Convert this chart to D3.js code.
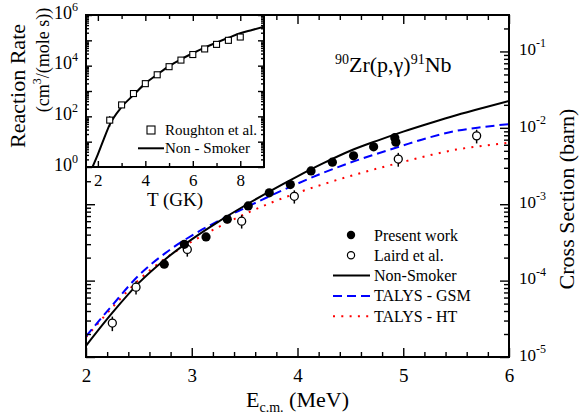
<!DOCTYPE html>
<html lang="en">
<head>
<meta charset="UTF-8">
<title>90Zr(p,g)91Nb cross section and reaction rate</title>
<script src="https://d3js.org/d3.v7.min.js"></script>
<style>
  body { margin: 0; background: #fff; }
  svg { display: block; }
  svg text { font-family: "Liberation Serif", "Times New Roman", "Noto Serif", "DejaVu Serif", FreeSerif, "Nimbus Roman", Times, serif; }
  .domain { display: none; }
  .tick line { stroke: #000; stroke-width: 1.4px; }
</style>
</head>
<body>
<svg width="579" height="418"></svg>
<script>
// ---- main panel: cross section (barn) vs E_cm (MeV) ----
const energies   = [2.0, 2.25, 2.5, 2.75, 3.0, 3.25, 3.5, 3.75, 4.0, 4.25, 4.5, 4.75, 5.0, 5.25, 5.5, 5.75, 6.0];
const nonSmoker  = [1.40e-5, 3.80e-5, 9.33e-5, 1.905e-4, 3.47e-4, 5.89e-4, 9.55e-4, 1.51e-3, 2.32e-3, 3.47e-3, 5.01e-3, 6.76e-3, 8.91e-3, 1.148e-2, 1.462e-2, 1.82e-2, 2.24e-2];
const talysGSM   = [1.86e-5, 4.79e-5, 1.175e-4, 2.29e-4, 3.89e-4, 6.03e-4, 8.91e-4, 1.30e-3, 1.86e-3, 2.60e-3, 3.51e-3, 4.57e-3, 5.89e-3, 7.50e-3, 9.12e-3, 1.023e-2, 1.12e-2];
const talysHT    = [1.82e-5, 4.47e-5, 1.023e-4, 1.95e-4, 3.24e-4, 5.01e-4, 7.41e-4, 1.047e-3, 1.41e-3, 1.84e-3, 2.34e-3, 2.92e-3, 3.59e-3, 4.37e-3, 5.19e-3, 5.82e-3, 6.38e-3];

const presentE     = [2.74, 2.93, 3.135, 3.336, 3.534, 3.733, 3.932, 4.128, 4.33, 4.53, 4.72, 4.92, 4.93];
const presentSigma = [1.64e-4, 2.99e-4, 3.73e-4, 6.36e-4, 9.5e-4, 1.41e-3, 1.81e-3, 2.73e-3, 3.55e-3, 4.30e-3, 5.64e-3, 7.43e-3, 6.50e-3];

const lairdE     = [2.249, 2.473, 2.958, 3.472, 3.97, 4.953, 5.694];
const lairdSigma = [2.78e-5, 8.2e-5, 2.56e-4, 6.0e-4, 1.27e-3, 3.9e-3, 7.85e-3];
const lairdErr   = [6e-6, 1.6e-5, 5e-5, 1.2e-4, 2.5e-4, 8e-4, 1.6e-3];

const energyTicks = [2, 3, 4, 5, 6];
const sigmaDecades = [-5, -4, -3, -2, -1];

// ---- inset: reaction rate vs T (GK) ----
const rateT         = [1.75, 2.0, 2.25, 2.5, 3.0, 3.5, 4.0, 4.5, 5.0, 5.5, 6.0, 6.5, 7.0, 7.5, 8.0, 8.5, 9.0];
const rateNonSmoker = [0.89, 3.16, 12.6, 46.8, 234, 692, 2000, 4470, 9550, 17800, 30900, 51300, 81300, 126000, 191000, 257000, 347000];
const roughtonT     = [2.5, 3.0, 3.5, 4.0, 4.5, 5.0, 5.5, 6.0, 6.5, 7.0, 7.5, 8.0];
const roughtonRate  = [70.8, 282, 794, 1950, 4370, 9120, 16600, 27500, 45700, 69200, 100000, 135000];
const roughtonErr   = [32, 60, 150, 300, 600, 1200, 2000, 3000, 5000, 7000, 9000, 12000];

const tempTicks = [2, 4, 6, 8];
const rateDecades = [0, 1, 2, 3, 4, 5, 6];

const mainLegend = ["Present work", "Laird et al.", "Non-Smoker", "TALYS - GSM", "TALYS - HT"];
const insetLegend = ["Roughton et al.", "Non - Smoker"];

const svg = d3.select("svg");

const M = { left: 86, right: 509, top: 15, bottom: 357 };
const I = { left: 86, right: 264, top: 15, bottom: 167 };

const x = d3.scaleLinear().domain([2, 6]).range([M.left, M.right]);
const y = d3.scaleLog().domain([1e-5, 0.3]).range([M.bottom, M.top]);
const xi = d3.scaleLinear().domain([1.5, 9]).range([I.left, I.right]);
const yi = d3.scaleLog().domain([1, 1e6]).range([I.bottom, I.top]);

// log minor tick values
function logMinors(decades, maxVal) {
  const out = [];
  decades.forEach(d => {
    for (let k = 2; k <= 9; k++) {
      const v = k * Math.pow(10, d);
      if (v <= maxVal) out.push(v);
    }
  });
  return out;
}

function powLabel(sel, exp, size, supSize) {
  sel.each(function () {
    const t = d3.select(this).text(null);
    t.append("tspan").attr("font-size", size).text("10");
    t.append("tspan").attr("font-size", supSize).attr("dy", -8).text(exp);
  });
}

const defs = svg.append("defs");
defs.append("clipPath").attr("id", "clipMain").append("rect")
  .attr("x", M.left).attr("y", M.top).attr("width", M.right - M.left).attr("height", M.bottom - M.top);
defs.append("clipPath").attr("id", "clipInset").append("rect")
  .attr("x", I.left).attr("y", I.top).attr("width", I.right - I.left).attr("height", I.bottom - I.top);

// ---- main curves ----
const line = d3.line().x(d => x(d[0])).y(d => y(d[1])).curve(d3.curveMonotoneX);
const curves = svg.append("g").attr("clip-path", "url(#clipMain)").attr("fill", "none").attr("stroke-width", 2);
curves.append("path").datum(d3.zip(energies, talysHT)).attr("d", line)
  .attr("stroke", "#ff0000").attr("stroke-dasharray", "2,6.3");
curves.append("path").datum(d3.zip(energies, talysGSM)).attr("d", line)
  .attr("stroke", "#0000ff").attr("stroke-dasharray", "9,5");
curves.append("path").datum(d3.zip(energies, nonSmoker)).attr("d", line)
  .attr("stroke", "#000");

// Laird et al. (open circles with error bars)
const laird = svg.append("g");
laird.selectAll("line").data(d3.range(lairdE.length)).join("line")
  .attr("x1", i => x(lairdE[i])).attr("x2", i => x(lairdE[i]))
  .attr("y1", i => y(lairdSigma[i] - lairdErr[i])).attr("y2", i => y(lairdSigma[i] + lairdErr[i]))
  .attr("stroke", "#000").attr("stroke-width", 1.5);
laird.selectAll("circle").data(d3.range(lairdE.length)).join("circle")
  .attr("cx", i => x(lairdE[i])).attr("cy", i => y(lairdSigma[i])).attr("r", 4)
  .attr("fill", "#fff").attr("stroke", "#000").attr("stroke-width", 1.3);

// present work (filled circles)
svg.append("g").selectAll("circle").data(d3.range(presentE.length)).join("circle")
  .attr("cx", i => x(presentE[i])).attr("cy", i => y(presentSigma[i])).attr("r", 4.6)
  .attr("fill", "#000");

// ---- main axes ----
const sigmaMajor = sigmaDecades.map(d => Math.pow(10, d));
const sigmaMinor = logMinors(sigmaDecades, 0.3);
const xMinor = d3.range(2, 6.001, 0.2).filter(v => Math.abs(v - Math.round(v)) > 1e-6);

svg.append("g").attr("transform", `translate(0,${M.bottom})`)
  .call(d3.axisBottom(x).tickValues(energyTicks).tickSizeInner(-9).tickSizeOuter(0).tickPadding(12).tickFormat(d3.format("d")))
  .attr("font-size", 19).attr("font-family", null);
svg.append("g").attr("transform", `translate(0,${M.bottom})`)
  .call(d3.axisBottom(x).tickValues(xMinor).tickSizeInner(-5).tickSizeOuter(0).tickFormat(""));

// top axis, only right of the inset
svg.append("g").attr("transform", `translate(0,${M.top})`)
  .call(d3.axisTop(x).tickValues(energyTicks.filter(v => x(v) > I.right + 2)).tickSizeInner(-9).tickSizeOuter(0).tickFormat(""));
svg.append("g").attr("transform", `translate(0,${M.top})`)
  .call(d3.axisTop(x).tickValues(xMinor.filter(v => x(v) > I.right + 2)).tickSizeInner(-5).tickSizeOuter(0).tickFormat(""));

// right axis with labels
const rightAx = svg.append("g").attr("transform", `translate(${M.right},0)`)
  .call(d3.axisRight(y).tickValues(sigmaMajor).tickSizeInner(-9).tickSizeOuter(0).tickPadding(10).tickFormat(""))
  .attr("font-family", null);
rightAx.selectAll(".tick text").each(function (d) {
  powLabel(d3.select(this), String(Math.round(Math.log10(d))), 17, 12);
});
svg.append("g").attr("transform", `translate(${M.right},0)`)
  .call(d3.axisRight(y).tickValues(sigmaMinor).tickSizeInner(-5).tickSizeOuter(0).tickFormat(""));

// left axis below the inset
svg.append("g").attr("transform", `translate(${M.left},0)`)
  .call(d3.axisLeft(y).tickValues(sigmaMajor.filter(v => y(v) > I.bottom + 3)).tickSizeInner(-9).tickSizeOuter(0).tickFormat(""));
svg.append("g").attr("transform", `translate(${M.left},0)`)
  .call(d3.axisLeft(y).tickValues(sigmaMinor.filter(v => y(v) > I.bottom + 3)).tickSizeInner(-5).tickSizeOuter(0).tickFormat(""));

svg.append("rect").attr("x", M.left).attr("y", M.top)
  .attr("width", M.right - M.left).attr("height", M.bottom - M.top)
  .attr("fill", "none").attr("stroke", "#000").attr("stroke-width", 2);

// ---- main legend ----
const lg = svg.append("g").attr("font-size", 16);
const legX = 351, legTextX = 374, legY0 = 235, legStep = 20.3;
lg.append("circle").attr("cx", legX).attr("cy", legY0).attr("r", 4.2).attr("fill", "#000");
lg.append("circle").attr("cx", legX).attr("cy", legY0 + legStep).attr("r", 3.6)
  .attr("fill", "#fff").attr("stroke", "#000").attr("stroke-width", 1.2);
const legStyles = [null, null, ["#000", null], ["#0000ff", "9,5"], ["#ff0000", "2,6.3"]];
legStyles.forEach((s, i) => {
  if (!s) return;
  lg.append("line").attr("x1", 333).attr("x2", 370)
    .attr("y1", legY0 + i * legStep).attr("y2", legY0 + i * legStep)
    .attr("stroke", s[0]).attr("stroke-width", 2).attr("stroke-dasharray", s[1]);
});
lg.selectAll("text").data(mainLegend).join("text")
  .attr("x", legTextX).attr("y", (d, i) => legY0 + i * legStep + 5.5).text(d => d);

// reaction label
const title = svg.append("text").attr("x", 335).attr("y", 72).attr("font-size", 22);
title.append("tspan").attr("font-size", 14).attr("dy", -8).text("90");
title.append("tspan").attr("dy", 8).text("Zr(p,γ)");
title.append("tspan").attr("font-size", 14).attr("dy", -8).text("91");
title.append("tspan").attr("dy", 8).text("Nb");

// axis titles
const xt = svg.append("text").attr("x", (M.left + M.right) / 2).attr("y", 407)
  .attr("text-anchor", "middle").attr("font-size", 22);
xt.append("tspan").text("E");
xt.append("tspan").attr("font-size", 14).attr("dy", 5).text("c.m.");
xt.append("tspan").attr("dy", -5).text(" (MeV)");

svg.append("text").attr("transform", `translate(574,${(100 + 298) / 2}) rotate(-90)`)
  .attr("text-anchor", "middle").attr("font-size", 22)
  .text("Cross Section (barn)");

// ---- inset ----
svg.append("rect").attr("x", I.left).attr("y", I.top)
  .attr("width", I.right - I.left).attr("height", I.bottom - I.top).attr("fill", "#fff");

const iline = d3.line().x(d => xi(d[0])).y(d => yi(d[1])).curve(d3.curveMonotoneX);
svg.append("path").datum(d3.zip(rateT, rateNonSmoker)).attr("d", iline)
  .attr("clip-path", "url(#clipInset)")
  .attr("fill", "none").attr("stroke", "#000").attr("stroke-width", 2);

const rough = svg.append("g");
rough.selectAll("line").data(d3.range(roughtonT.length)).join("line")
  .attr("x1", i => xi(roughtonT[i])).attr("x2", i => xi(roughtonT[i]))
  .attr("y1", i => yi(roughtonRate[i] - roughtonErr[i])).attr("y2", i => yi(roughtonRate[i] + roughtonErr[i]))
  .attr("stroke", "#000").attr("stroke-width", 1.2);
rough.selectAll("rect").data(d3.range(roughtonT.length)).join("rect")
  .attr("x", i => xi(roughtonT[i]) - 3).attr("y", i => yi(roughtonRate[i]) - 3)
  .attr("width", 6).attr("height", 6)
  .attr("fill", "#fff").attr("stroke", "#000").attr("stroke-width", 1.1);

const rateMajor = rateDecades.map(d => Math.pow(10, d));
const rateMinor = logMinors(rateDecades.slice(0, -1), 1e6);
const tMinor = [2, 3, 4, 5, 6, 7, 8].filter(v => tempTicks.indexOf(v) < 0);

svg.append("g").attr("transform", `translate(0,${I.bottom})`)
  .call(d3.axisBottom(xi).tickValues(tempTicks).tickSizeInner(-6).tickSizeOuter(0).tickPadding(7).tickFormat(d3.format("d")))
  .attr("font-size", 17).attr("font-family", null);
svg.append("g").attr("transform", `translate(0,${I.bottom})`)
  .call(d3.axisBottom(xi).tickValues(tMinor).tickSizeInner(-4).tickSizeOuter(0).tickFormat(""));
svg.append("g").attr("transform", `translate(0,${I.top})`)
  .call(d3.axisTop(xi).tickValues(tempTicks).tickSizeInner(-6).tickSizeOuter(0).tickFormat(""));
svg.append("g").attr("transform", `translate(0,${I.top})`)
  .call(d3.axisTop(xi).tickValues(tMinor).tickSizeInner(-4).tickSizeOuter(0).tickFormat(""));

const leftIn = svg.append("g").attr("transform", `translate(${I.left},0)`)
  .call(d3.axisLeft(yi).tickValues(rateMajor).tickSizeInner(-6).tickSizeOuter(0).tickPadding(8).tickFormat(""))
  .attr("font-family", null);
leftIn.selectAll(".tick text").each(function (d) {
  const e = Math.round(Math.log10(d));
  if (e % 2 === 0) powLabel(d3.select(this), String(e), 18, 12);
});
svg.append("g").attr("transform", `translate(${I.left},0)`)
  .call(d3.axisLeft(yi).tickValues(rateMinor).tickSizeInner(-3).tickSizeOuter(0).tickFormat(""));
svg.append("g").attr("transform", `translate(${I.right},0)`)
  .call(d3.axisRight(yi).tickValues(rateMajor).tickSizeInner(-6).tickSizeOuter(0).tickFormat(""));
svg.append("g").attr("transform", `translate(${I.right},0)`)
  .call(d3.axisRight(yi).tickValues(rateMinor).tickSizeInner(-3).tickSizeOuter(0).tickFormat(""));

svg.append("rect").attr("x", I.left).attr("y", I.top)
  .attr("width", I.right - I.left).attr("height", I.bottom - I.top)
  .attr("fill", "none").attr("stroke", "#000").attr("stroke-width", 2);

// inset legend
const il = svg.append("g").attr("font-size", 15);
il.append("rect").attr("x", 151 - 4).attr("y", 130 - 4).attr("width", 8).attr("height", 8)
  .attr("fill", "#fff").attr("stroke", "#000").attr("stroke-width", 1.1);
il.append("line").attr("x1", 138).attr("x2", 164).attr("y1", 148.3).attr("y2", 148.3)
  .attr("stroke", "#000").attr("stroke-width", 2);
il.selectAll("text").data(insetLegend).join("text")
  .attr("x", 165).attr("y", (d, i) => 130 + i * 18.3 + 5).text(d => d);

// inset axis titles
svg.append("text").attr("x", (I.left + I.right) / 2).attr("y", 206)
  .attr("text-anchor", "middle").attr("font-size", 19).text("T (GK)");
svg.append("text").attr("transform", "translate(25,86) rotate(-90)")
  .attr("text-anchor", "middle").attr("font-size", 22).text("Reaction Rate");
const yl = svg.append("text").attr("transform", "translate(49,60) rotate(-90)")
  .attr("text-anchor", "middle").attr("font-size", 18);
yl.append("tspan").text("(cm");
yl.append("tspan").attr("font-size", 12).attr("dy", -8).text("3");
yl.append("tspan").attr("dy", 8).text("/(mole s))");
</script>
</body>
</html>
